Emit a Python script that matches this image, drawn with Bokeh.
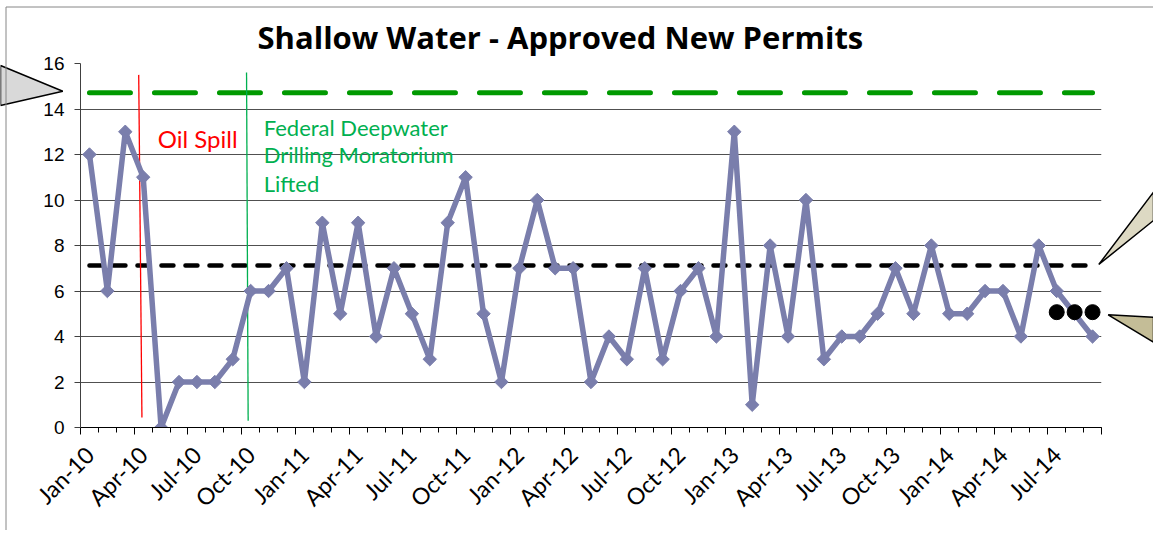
import math
from bokeh.plotting import figure
from bokeh.layouts import column
from bokeh.models import (LinearAxis, FixedTicker, Range1d, Label, Grid)
from bokeh.embed import file_html
from bokeh.resources import INLINE

# ---------------- data ----------------
months = [
    "Jan-10", "Feb-10", "Mar-10", "Apr-10", "May-10", "Jun-10", "Jul-10", "Aug-10", "Sep-10", "Oct-10", "Nov-10", "Dec-10",
    "Jan-11", "Feb-11", "Mar-11", "Apr-11", "May-11", "Jun-11", "Jul-11", "Aug-11", "Sep-11", "Oct-11", "Nov-11", "Dec-11",
    "Jan-12", "Feb-12", "Mar-12", "Apr-12", "May-12", "Jun-12", "Jul-12", "Aug-12", "Sep-12", "Oct-12", "Nov-12", "Dec-12",
    "Jan-13", "Feb-13", "Mar-13", "Apr-13", "May-13", "Jun-13", "Jul-13", "Aug-13", "Sep-13", "Oct-13", "Nov-13", "Dec-13",
    "Jan-14", "Feb-14", "Mar-14", "Apr-14", "May-14", "Jun-14", "Jul-14", "Aug-14", "Sep-14",
]
permits = [
    12, 6, 13, 11, 0, 2, 2, 2, 3, 6, 6, 7,
    2, 9, 5, 9, 4, 7, 5, 3, 9, 11, 5, 2,
    7, 10, 7, 7, 2, 4, 3, 7, 3, 6, 7, 4,
    13, 1, 8, 4, 10, 3, 4, 4, 5, 7, 5, 8,
    5, 5, 6, 6, 4, 8, 6, 5, 4,
]
mean_level = 7.12
upper_limit = 14.71
recent_months = ["Jul-14", "Aug-14", "Sep-14"]
recent_level = [5.07, 5.07, 5.07]
tick_labels = ["Jan-10", "Apr-10", "Jul-10", "Oct-10", "Jan-11", "Apr-11", "Jul-11", "Oct-11",
               "Jan-12", "Apr-12", "Jul-12", "Oct-12", "Jan-13", "Apr-13", "Jul-13", "Oct-13",
               "Jan-14", "Apr-14", "Jul-14"]
y_ticks = [0, 2, 4, 6, 8, 10, 12, 14, 16]

# event markers (category position, value)
oil_spill_x = [2.75, 2.93]
oil_spill_y = [15.5, 0.44]
lifted_x = [8.77, 8.86]
lifted_y = [15.6, 0.3]

x = list(range(len(months)))
n = len(months)

W, H = 1150, 530
WO = 1153  # overlay width (full window)

# ---------------- main chart ----------------
LATO = "Lato"
p = figure(width=W, height=H, x_range=Range1d(-0.5, n - 0.5), y_range=Range1d(0, 16),
           output_backend="svg", toolbar_location=None,
           x_axis_location=None, y_axis_location=None,
           min_border_left=80, min_border_right=W - 80 - 1021,
           min_border_top=63, min_border_bottom=H - 63 - 364,
           title="Shallow Water - Approved New Permits")
p.frame_align = False
p.center = [r for r in p.center if not isinstance(r, Grid)]
p.outline_line_color = None
p.background_fill_color = "white"
p.border_fill_color = "white"
p.title.text_font = "Open Sans"
p.title.text_font_style = "bold"
p.title.text_font_size = "31px"
p.title.align = "left"
p.title.offset = 177
p.title.standoff = 11
p.title.text_color = "black"

# y axis
yaxis = LinearAxis(ticker=FixedTicker(ticks=y_ticks))
yaxis.axis_line_color = "#404040"
yaxis.major_tick_line_color = "#404040"
yaxis.major_tick_out = 6
yaxis.major_tick_in = 0
yaxis.minor_tick_line_color = None
yaxis.major_label_text_font = "Liberation Sans"
yaxis.major_label_text_font_size = "19px"
yaxis.major_label_text_color = "black"
yaxis.major_label_standoff = 10
p.add_layout(yaxis, "left")
p.add_layout(Grid(dimension=1, ticker=yaxis.ticker, grid_line_color="#505050", grid_line_width=1))

# x axis: tick marks at category boundaries
bounds_major = [i - 0.5 for i in range(0, n + 1, 3)]
bounds_minor = [i - 0.5 for i in range(0, n + 1)]
xticks_axis = LinearAxis(ticker=FixedTicker(ticks=bounds_major, minor_ticks=bounds_minor))
xticks_axis.axis_line_color = "black"
xticks_axis.major_tick_line_color = "black"
xticks_axis.minor_tick_line_color = "black"
xticks_axis.major_tick_out = 7
xticks_axis.major_tick_in = 0
xticks_axis.minor_tick_out = 5
xticks_axis.minor_tick_in = 0
xticks_axis.major_label_overrides = {b: "" for b in bounds_major}
xticks_axis.major_label_text_font_size = "1px"
xticks_axis.major_label_standoff = 0
p.add_layout(xticks_axis, "below")

# x axis: labels at category centres
label_pos = [months.index(t) for t in tick_labels]
xlab_axis = LinearAxis(ticker=FixedTicker(ticks=label_pos, minor_ticks=[]))
xlab_axis.major_label_overrides = {pos: lab for pos, lab in zip(label_pos, tick_labels)}
xlab_axis.axis_line_color = None
xlab_axis.major_tick_line_color = None
xlab_axis.minor_tick_line_color = None
xlab_axis.major_tick_out = 0
xlab_axis.major_tick_in = 0
xlab_axis.major_label_orientation = math.pi / 4
xlab_axis.major_label_text_font = LATO
xlab_axis.major_label_text_font_size = "23px"
xlab_axis.major_label_text_color = "black"
xlab_axis.major_label_standoff = 16
p.add_layout(xlab_axis, "below")

# reference lines
p.line(x, [upper_limit] * n, line_color="#009900", line_width=5, line_dash="41 24", line_cap="round")
p.line(x, [mean_level] * n, line_color="black", line_width=4.5, line_dash="12 12", line_cap="round")

# event lines
p.line(oil_spill_x, oil_spill_y, line_color="#ff0000", line_width=1.3)
p.line(lifted_x, lifted_y, line_color="#00b050", line_width=1.3)

# data series
SERIES = "#7a7eac"
p.line(x, permits, line_color=SERIES, line_width=5.5, line_join="round")
p.scatter(x, permits, marker="square", angle=math.pi / 4, size=9.5,
          fill_color=SERIES, line_color=SERIES)

# recent-level dots
p.scatter([months.index(m) for m in recent_months], recent_level, marker="circle", size=15,
          fill_color="black", line_color="black")

# text annotations
p.add_layout(Label(x=3.81, y=12.69, text="Oil Spill", text_color="#ff0000",
                   text_font=LATO, text_font_size="24px", text_baseline="alphabetic"))
for txt, yy in [("Federal Deepwater", 13.2), ("Drilling Moratorium", 11.99), ("Lifted", 10.71)]:
    p.add_layout(Label(x=9.73, y=yy, text=txt, text_color="#00b050",
                       text_font=LATO, text_font_size="22px", text_baseline="alphabetic"))

# ---------------- overlay: chart-area border and callout pointers (page pixels) ----------------
ov = figure(width=WO, height=H, x_range=Range1d(0, WO), y_range=Range1d(H, 0),
            output_backend="svg", toolbar_location=None,
            x_axis_location=None, y_axis_location=None, min_border=0)
ov.frame_align = False
ov.center = [r for r in ov.center if not isinstance(r, Grid)]
ov.outline_line_color = None
ov.background_fill_color = None
ov.border_fill_color = None
ov.styles = {"margin-top": f"-{H}px"}

callout_xs = [[62.3, 0, 0], [1098.3, WO, WO], [1107.7, WO, WO]]
callout_ys = [[90.7, 65, 105], [264, 191.6, 220], [314.3, 316.7, 341.7]]
callout_fill = ["#d9d9d9", "#ddd9c3", "#c4bd97"]
ov.patches(callout_xs, callout_ys, fill_color=callout_fill, line_color="black", line_width=1.5)

border_x0 = [5.5, 5.5]
border_y0 = [H, 6.5]
border_x1 = [5.5, WO]
border_y1 = [6.5, 6.5]
ov.segment(border_x0, border_y0, border_x1, border_y1, line_color="#868686", line_width=1)

page = column(p, ov)
open("out.html", "w").write(file_html(page, INLINE))
